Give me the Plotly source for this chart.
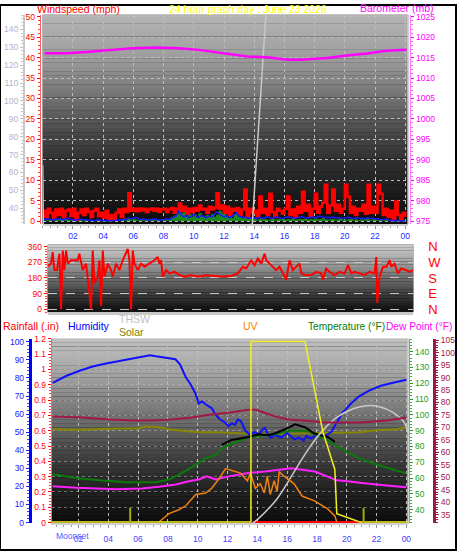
import plotly.graph_objects as go

W, H = 459, 555
FONT = "Liberation Sans, Arial, sans-serif"

# ================= DATA =================
# ---- top panel (10-minute samples, hours 0..24) ----
wind_gust = [
    2.5, 1.0, 3.0, 2.0, 0.8, 2.8,
    1.5, 3.0, 1.0, 2.5, 2.8, 1.2,
    3.0, 0.3, 2.0, 2.8, 1.5, 3.0,
    2.2, 1.0, 2.5, 3.0, 1.2, 2.0,
    0.8, 2.5, 0.5, 1.5, 0.3, 2.0,
    2.8, 1.0, 3.0, 2.2, 6.8, 2.5,
    3.0, 2.4, 3.1, 2.6, 3.0, 2.2,
    2.8, 3.1, 2.5, 3.0, 2.3, 2.9,
    3.0, 2.2, 2.8, 3.2, 2.0, 3.0,
    4.3, 2.5, 3.5, 1.8, 3.0, 2.2,
    3.2, 2.5, 3.8, 2.8, 3.0, 2.0,
    3.5, 2.8, 3.3, 6.8, 3.0, 3.8,
    2.0, 3.5, 1.5, 3.0, 2.5, 3.2,
    1.5, 2.8, 7.7, 1.0, 3.0, 2.0,
    2.5, 1.2, 6.0, 2.0, 3.0, 1.5,
    6.7, 2.2, 1.0, 3.0, 2.5, 1.8,
    3.0, 6.0, 1.5, 2.8, 1.0, 3.5,
    2.0, 7.2, 2.5, 4.0, 1.2, 3.0,
    6.7, 2.0, 3.5, 4.5, 8.9, 2.0,
    3.8, 7.7, 2.5, 4.0, 2.0, 3.0,
    8.9, 6.0, 2.0, 3.5, 1.5, 3.0,
    2.5, 4.0, 1.8, 8.9, 2.0, 3.5,
    2.0, 8.9, 6.7, 1.5, 3.0, 1.0,
    2.5, 0.5, 4.8, 1.5, 0.3, 2.0,
    1.0,
]
wind_avg = [
    0.5, 0.3, 0.6, 0.4, 0.2, 0.5,
    0.4, 0.6, 0.3, 0.5, 0.7, 0.4,
    0.3, 0.2, 0.4, 0.5, 0.3, 0.4,
    0.2, 0.3, 0.1, 0.2, 0.3, 0.2,
    0.1, 0.2, 0.1, 0.0, 0.1, 0.2,
    0.3, 0.2, 0.4, 0.3, 0.8, 0.5,
    0.7, 0.9, 0.6, 0.4, 0.5, 0.3,
    0.4, 0.3, 0.5, 0.4, 0.3, 0.2,
    0.3, 0.5, 0.4, 0.6, 0.9, 1.2,
    2.4, 1.5, 1.0, 1.3, 0.8, 1.2,
    1.6, 1.1, 0.9, 1.4, 1.0, 0.8,
    1.2, 1.0, 1.5, 2.2, 1.8, 1.4,
    1.0, 1.3, 0.8, 1.1, 1.6, 2.0,
    1.2, 0.9, 1.0, 0.8, 0.7, 0.9,
    0.8, 0.6, 0.9, 0.7, 0.8, 1.0,
    0.9, 0.7, 0.8, 1.0, 0.8, 0.6,
    0.8, 1.0, 0.9, 0.7, 0.6, 0.8,
    0.9, 1.1, 0.8, 0.7, 0.9, 1.0,
    0.8, 0.9, 1.2, 1.0, 0.8, 0.9,
    0.8, 1.0, 0.9, 0.7, 0.8, 0.6,
    0.7, 0.9, 0.8, 0.6, 0.7, 0.8,
    0.6, 0.7, 0.5, 0.8, 0.6, 0.7,
    0.5, 0.6, 0.4, 0.3, 0.5, 0.3,
    0.2, 0.1, 0.2, 0.1, 0.0, 0.1,
    0.1,
]
wind_low = [
    0.1, 0.1, 0.2, 0.1, 0.1, 0.1,
    0.2, 0.3, 0.5, 0.3, 0.1, 0.1,
    0.1, 0.0, 0.1, 0.1, 0.0, 0.1,
    0.1, 0.1, 0.0, 0.1, 0.1, 0.0,
    0.0, 0.1, 0.0, 0.0, 0.1, 0.1,
    0.1, 0.2, 0.5, 0.3, 0.6, 0.2,
    0.4, 0.2, 0.1, 0.1, 0.3, 0.1,
    0.1, 0.1, 0.2, 0.1, 0.1, 0.3,
    0.2, 0.4, 0.3, 0.8, 1.2, 1.5,
    2.6, 1.8, 2.2, 1.0, 1.6, 0.9,
    1.5, 0.8, 1.8, 1.2, 0.7, 1.4,
    1.0, 1.6, 0.9, 1.4, 2.4, 1.8,
    1.5, 0.8, 1.2, 0.6, 1.7, 2.2,
    0.9, 0.5, 0.8, 0.4, 0.6, 0.3,
    0.4, 0.2, 0.5, 0.3, 0.4, 0.2,
    0.3, 0.5, 0.2, 0.4, 0.3, 0.5,
    0.2, 0.4, 0.3, 0.6, 0.2, 0.3,
    0.4, 0.3, 0.5, 0.2, 0.4, 0.3,
    0.5, 0.3, 0.4, 0.6, 0.3, 0.2,
    0.3, 0.4, 0.2, 0.3, 0.5, 0.2,
    0.2, 0.3, 0.4, 0.2, 0.3, 0.1,
    0.3, 0.2, 0.4, 0.3, 0.2, 0.3,
    0.2, 0.1, 0.3, 0.2, 0.1, 0.1,
    0.1, 0.0, 0.1, 0.1, 0.0, 0.0,
    0.0,
]
wind_hours = [i / 6 for i in range(len(wind_gust))]

baro_hours = [0.13, 1.58, 2.89, 4.41, 5.92, 7.5, 9.01, 10.33, 12.3, 13.55,
              14.87, 16.18, 17.04, 18.82, 20.13, 21.45, 22.76, 24.08]
baro_vals = [1016.1, 1016.1, 1016.35, 1016.8, 1017.3, 1017.5, 1017.3, 1016.9,
             1015.9, 1015.3, 1015.1, 1014.5, 1014.5, 1014.9, 1015.5, 1016.0,
             1016.7, 1016.9]

thsw_top_hours = [0.0, 0.06, 13.87, 14.73, 14.9]
thsw_top_vals = [64, 15, 31, 148, 165]

# ---- middle panel: wind direction ----
wdir_hours = [0, 0.22, 0.33, 0.44, 0.61, 0.77, 0.88, 0.99, 1.10, 1.21,
              1.32, 1.53, 1.97, 2.08, 2.30, 2.52, 2.74, 2.85, 2.96, 3.07,
              3.29, 3.40, 3.51, 3.62, 3.73, 3.95, 4.16, 4.27, 4.49, 4.71,
              4.93, 5.15, 5.26, 5.37, 5.48, 5.59, 5.70, 5.92, 6.14, 6.36,
              6.68, 7.01, 7.23, 7.34, 7.45, 7.56, 7.78, 8.00, 8.33, 8.66,
              8.99, 9.42, 9.86, 10.4, 10.96, 11.5, 12.05, 12.49, 12.82, 13.04,
              13.37, 13.59, 13.81, 14.03, 14.25, 14.36, 14.58, 14.79, 15.01, 15.23,
              15.45, 15.67, 15.89, 16.11, 16.33, 16.55, 16.66, 16.88, 17.32, 17.64,
              17.97, 18.08, 18.30, 18.52, 18.85, 19.18, 19.51, 19.73, 19.95, 20.16,
              20.49, 20.82, 21.15, 21.48, 21.59, 21.65, 21.81, 22.03, 22.25, 22.47,
              22.58, 22.79, 23.01, 23.23, 23.56, 23.78, 24.0]
wdir_vals = [247, 262, 328, 225, 225, 319, 0, 337, 225, 337,
             262, 281, 281, 319, 225, 262, 94, 0, 337, 150,
             187, 281, 19, 337, 187, 262, 225, 187, 262, 225,
             281, 319, 347, 281, 0, 337, 262, 225, 262, 244,
             262, 281, 300, 262, 281, 187, 225, 206, 215, 197,
             187, 197, 187, 195, 191, 188, 191, 206, 244, 234,
             281, 253, 291, 262, 319, 281, 262, 244, 225, 244,
             206, 169, 281, 225, 244, 262, 206, 197, 197, 215,
             206, 169, 234, 215, 197, 215, 206, 253, 206, 215,
             206, 197, 215, 206, 300, 37, 187, 244, 244, 281,
             244, 262, 206, 234, 225, 215, 225]
dir_ticks = [0, 90, 180, 270, 360]
dir_labels = ["N", "E", "S", "W", "N"]

# ---- bottom panel ----
hum_hours = [0.27, 1.2, 2.07, 2.95, 3.85, 4.7, 5.6, 6.5, 6.8, 7.2,
             7.8, 8.5, 8.8, 9.2, 9.5, 9.85, 10.07, 10.3, 10.6, 10.95,
             11.2, 11.5, 11.8, 12.07, 12.3, 12.5, 12.7, 12.9, 13.2, 13.5,
             13.8, 14.1, 14.3, 14.5, 14.7, 14.9, 15.2, 15.6, 16.0, 16.5,
             16.8, 17.1, 17.3, 17.6, 18.0, 18.4, 18.7, 19.0, 19.3, 19.7,
             20.3, 20.8, 21.5, 22.3, 23.1, 24.0]
hum_vals = [77.3, 81.2, 84.0, 86.3, 88.0, 89.4, 90.6, 92.0, 92.6, 92.0,
            91.2, 90.3, 87.6, 80.4, 76.8, 71.4, 65.9, 67.0, 65.0, 63.2,
            59.6, 57.0, 55.5, 53.4, 55.0, 54.0, 57.0, 56.0, 50.8, 48.6,
            50.0, 48.6, 51.0, 52.4, 49.0, 47.0, 48.5, 47.0, 49.5, 46.0,
            47.0, 45.4, 48.0, 46.5, 48.6, 47.5, 48.6, 50.5, 55.0, 60.5,
            66.0, 69.7, 73.0, 75.7, 77.3, 79.0]

in_hum_hours = [0.27, 2.07, 3.4, 6.07, 6.53, 7.4, 8.27, 10.07, 11.2, 13.4,
                14.2, 16.73, 18.67, 20.87, 22.0, 23.4, 24.0]
in_hum_vals = [51.6, 51.3, 51.8, 52.2, 53.1, 52.7, 51.3, 50.0, 50.0, 49.2,
               48.9, 49.2, 49.5, 50.0, 51.1, 51.6, 52.7]

in_temp_hours = [0.27, 2.3, 4.07, 5.6, 6.9, 8.2, 9.6, 10.9, 12.07, 13.4,
                 13.9, 14.5, 15.2, 16.1, 17.2, 18.7, 20.9, 22.7, 24.0]
in_temp_vals = [74.4, 74.0, 73.2, 72.8, 72.8, 73.2, 74.0, 75.2, 75.9, 77.1,
                77.1, 75.9, 74.4, 73.2, 72.8, 72.0, 72.0, 72.8, 74.0]

temp_hours = [0.27, 1.87, 3.4, 5.2, 7.2, 8.07, 8.93, 9.87, 10.5, 11.2,
              11.6, 12.07, 13.4, 15.2, 16.3, 17.4, 18.67, 19.8, 20.9, 22.0,
              23.1, 24.0]
temp_vals = [62.5, 60.1, 58.6, 57.4, 57.4, 59.1, 63.2, 68.4, 72.5, 74.6,
             78.7, 80.8, 86.0, 87.8, 90.3, 89.7, 84.1, 77.5, 72.3, 68.6,
             65.5, 63.0]

dew_hours = [0.27, 1.87, 4.53, 6.27, 7.4, 8.53, 9.4, 10.07, 10.6, 11.2,
             12.07, 13.4, 14.53, 16.27, 17.87, 18.73, 19.33, 20.07, 20.87, 22.67,
             24.0]
dew_vals = [54.9, 53.9, 52.9, 53.5, 54.5, 56.0, 58.0, 59.1, 61.1, 59.1,
            61.1, 63.2, 64.2, 66.3, 64.2, 61.1, 58.6, 58.0, 57.0, 55.3,
            54.3]

heat_hours = [11.6, 12.27, 13.4, 14.07, 14.73, 15.2, 15.87, 16.53, 17.2, 17.8,
              18.2, 18.73, 19.2]
heat_vals = [81.0, 84.1, 86.0, 87.8, 87.2, 88.4, 90.9, 94.0, 92.2, 88.4,
             87.2, 86.0, 82.9]

thsw_hours = [13.67, 14.2, 15.33, 16.47, 17.53, 18.47, 19.33, 20.47, 21.33,
              22.2, 23.13, 23.8, 24.13]
thsw_vals = [31.3, 35.5, 47.0, 64.0, 79.8, 91.0, 98.4, 104.0, 105.8,
             105.2, 101.5, 96.0, 89.0]

uv_hours = [7.4, 8.07, 8.73, 9.2, 9.87, 10.53, 10.93, 11.4, 11.87, 12.2,
            12.53, 12.87, 13.33, 13.53, 13.87, 14.2, 14.47, 14.67, 14.87, 15.13,
            15.33, 15.47, 15.67, 16.07, 16.47, 17.0, 17.8, 18.67, 19.2, 19.33]
uv_vals = [0.0, 0.55, 0.8, 1.06, 1.8, 1.9, 2.2, 2.8, 3.5, 3.4,
           3.3, 3.2, 2.7, 3.2, 2.2, 2.5, 1.9, 3.0, 1.8, 2.7,
           2.0, 3.3, 3.1, 2.8, 2.5, 1.7, 1.4, 0.9, 0.4, 0.0]

solar_hours = [0.0, 13.57, 13.57, 17.2, 18.4, 19.2, 19.33, 20.53, 20.87, 24.13]
solar_vals = [0, 0, 985, 985, 491, 287, 46, 13, 0, 0]

sun_event_hours = [5.47, 21.13]
sun_marker_height = 78

rain_hours = [13.67, 21.13]
rain_vals = [0.0, 0.0]

moon_event_hour = 1.6
moon_event_label = "Moonset"

hour_ticks = [2, 4, 6, 8, 10, 12, 14, 16, 18, 20, 22, 24]
hour_labels = ["02", "04", "06", "08", "10", "12", "14", "16", "18", "20", "22", "00"]
rain_ticks = [0, 0.1, 0.2, 0.3, 0.4, 0.5, 0.6, 0.7, 0.8, 0.9, 1.0, 1.1, 1.2]
rain_labels = ["0", "0.1", "0.2", "0.3", "0.4", "0.5", "0.6", "0.7", "0.8", "0.9", "1", "1.1", "1.2"]

# ================= FIGURE =================
def px(p):
    return p / W

def py(p):
    return 1 - p / H

fig = go.Figure()

# --- top panel traces ---
fig.add_trace(go.Scatter(x=wind_hours, y=wind_low, xaxis="x", yaxis="y", mode="lines",
                         line=dict(color="#1a8a1a", width=1, shape="hv"),
                         fill="tozeroy", fillcolor="#1a8a1a", name="Wind low"))
fig.add_trace(go.Scatter(x=wind_hours, y=wind_gust, xaxis="x", yaxis="y", mode="lines",
                         line=dict(color="#ff0000", width=2.5, shape="hv"), name="Gust"))
fig.add_trace(go.Scatter(x=wind_hours, y=wind_avg, xaxis="x", yaxis="y", mode="lines",
                         line=dict(color="#1a1aff", width=1.5), name="Avg"))
fig.add_trace(go.Scatter(x=thsw_top_hours, y=thsw_top_vals, xaxis="x", yaxis="y2", mode="lines",
                         line=dict(color="#c8c8c8", width=1.5), name="THSW"))
fig.add_trace(go.Scatter(x=baro_hours, y=baro_vals, xaxis="x", yaxis="y3", mode="lines",
                         line=dict(color="#ff00ff", width=2.5), name="Barometer"))

# --- middle panel ---
fig.add_trace(go.Scatter(x=wdir_hours, y=wdir_vals, xaxis="x2", yaxis="y4", mode="lines",
                         line=dict(color="#ff0000", width=2), name="Direction"))
fig.add_trace(go.Scatter(x=[wdir_hours[0]], y=[wdir_vals[0]], xaxis="x2", yaxis="y5", mode="markers",
                         marker=dict(opacity=0), hoverinfo="skip"))

# --- bottom panel ---
fig.add_trace(go.Scatter(x=rain_hours, y=rain_vals, xaxis="x3", yaxis="y7", mode="lines",
                         line=dict(color="#ff0000", width=3), name="Rainfall"))
fig.add_trace(go.Scatter(x=in_hum_hours, y=in_hum_vals, xaxis="x3", yaxis="y6", mode="lines",
                         line=dict(color="#868600", width=2), name="Indoor humidity"))
fig.add_trace(go.Scatter(x=hum_hours, y=hum_vals, xaxis="x3", yaxis="y6", mode="lines",
                         line=dict(color="#1010ff", width=2), name="Humidity"))
fig.add_trace(go.Scatter(x=temp_hours, y=temp_vals, xaxis="x3", yaxis="y8", mode="lines",
                         line=dict(color="#0a7a0a", width=2), name="Temperature"))
fig.add_trace(go.Scatter(x=dew_hours, y=dew_vals, xaxis="x3", yaxis="y8", mode="lines",
                         line=dict(color="#ff20ff", width=2), name="Dew point"))
fig.add_trace(go.Scatter(x=heat_hours, y=heat_vals, xaxis="x3", yaxis="y8", mode="lines",
                         line=dict(color="#000000", width=2), name="Heat index"))
fig.add_trace(go.Scatter(x=thsw_hours, y=thsw_vals, xaxis="x3", yaxis="y8", mode="lines",
                         line=dict(color="#c8c8c8", width=1.5, shape="spline"), name="THSW"))
fig.add_trace(go.Scatter(x=in_temp_hours, y=in_temp_vals, xaxis="x3", yaxis="y9", mode="lines",
                         line=dict(color="#a01848", width=2), name="Indoor temp"))
fig.add_trace(go.Scatter(x=uv_hours, y=uv_vals, xaxis="x3", yaxis="y10", mode="lines",
                         line=dict(color="#f08010", width=1.5), name="UV"))
fig.add_trace(go.Scatter(x=solar_hours, y=solar_vals, xaxis="x3", yaxis="y11", mode="lines",
                         line=dict(color="#f0f020", width=1.5), name="Solar"))
sx, sy = [], []
for h in sun_event_hours:
    sx += [h, h, None]
    sy += [-20, sun_marker_height, None]
fig.add_trace(go.Scatter(x=sx, y=sy, xaxis="x3", yaxis="y11", mode="lines",
                         line=dict(color="#a8a810", width=2), name="Sun events"))

# --- gradient backgrounds ---
def gradient(xref, yref, stops, n=48):
    for i in range(n):
        f = (i + 0.5) / n
        for j in range(len(stops) - 1):
            a, b = stops[j], stops[j + 1]
            if a[0] <= f <= b[0]:
                t = (f - a[0]) / (b[0] - a[0])
                g = int(round(a[1] + (b[1] - a[1]) * t))
                break
        fig.add_shape(type="rect", xref=xref, yref=yref, x0=0, x1=1,
                      y0=1 - (i + 1) / n, y1=1 - i / n + 0.001,
                      fillcolor=f"rgb({g},{g},{g})", line_width=0, layer="below")

gradient("x domain", "y domain", [(0, 180), (0.19, 160), (0.42, 108), (0.56, 74), (0.70, 48), (0.89, 24), (1.0, 12)])
gradient("x2 domain", "y4 domain", [(0, 205), (0.26, 160), (0.49, 112), (0.72, 64), (0.88, 32), (1.0, 16)], n=24)
gradient("x3 domain", "y7 domain", [(0, 192), (0.21, 160), (0.43, 112), (0.64, 64), (0.8, 37), (1.0, 12)])

# frame lines
fig.add_shape(type="line", xref="x domain", yref="y domain", x0=1, x1=1, y0=0, y1=1,
              line=dict(color="#d0d0d0", width=2))
fig.add_shape(type="line", xref="x3 domain", yref="y7 domain", x0=1, x1=1, y0=0, y1=1,
              line=dict(color="#d0d0d0", width=2))
fig.add_shape(type="rect", xref="paper", yref="paper", x0=0, x1=1, y0=0, y1=1,
              line=dict(color="black", width=2))

tf = lambda c, s=8.5: dict(color=c, size=s, family=FONT)
GRID = "#bcbcbc"

top_dom = [py(223), py(10)]
mid_dom = [py(313), py(244)]
bot_dom = [py(528), py(340)]

fig.update_layout(
    width=W, height=H, margin=dict(l=0, r=0, t=0, b=0),
    paper_bgcolor="white", plot_bgcolor="black", showlegend=False,
    font=dict(family=FONT),
    # ---- top
    xaxis=dict(domain=[px(43), px(411)], range=[0, 24.2], anchor="y",
               tickvals=hour_ticks, ticktext=hour_labels, tickfont=tf("#2a2aff"),
               ticks="outside", ticklen=3, tickcolor="#909090",
               minor=dict(dtick=0.5, ticks="outside", ticklen=2, tickcolor="#a0a0a0"),
               showgrid=True, gridcolor=GRID, griddash="dot",
               showline=True, linecolor="#d0d0d0", linewidth=2, zeroline=False),
    yaxis=dict(domain=top_dom, range=[-0.72, 50.48], anchor="free", position=px(40), side="left",
               dtick=5, tickfont=tf("#ff0000"), ticks="outside", ticklen=3, tickcolor="#ff0000",
               minor=dict(dtick=1, ticks="outside", ticklen=2, tickcolor="#ff4040"),
               showline=True, linecolor="#ff6060", linewidth=1,
               showgrid=True, gridcolor=GRID, griddash="dot", zeroline=False),
    yaxis2=dict(overlaying="y", range=[31.2, 148.2], anchor="free", position=px(24), side="left",
                tickvals=[40, 50, 60, 70, 80, 90, 100, 110, 120, 130, 140],
                tickfont=tf("#b4b4c8"), ticks="outside", ticklen=3, tickcolor="#c0c0c0",
                minor=dict(dtick=2, ticks="outside", ticklen=2, tickcolor="#c8c8c8"),
                showline=True, linecolor="#c8c8c8", linewidth=2, showgrid=False, zeroline=False),
    yaxis3=dict(overlaying="y", range=[974.28, 1025.48], anchor="free", position=px(413), side="right",
                dtick=5, tickfont=tf("#ff00ff"), ticks="outside", ticklen=3, tickcolor="#ff00ff",
                minor=dict(dtick=1, ticks="outside", ticklen=2, tickcolor="#ff60ff"),
                showline=True, linecolor="#ff80ff", linewidth=1, showgrid=False, zeroline=False),
    # ---- middle
    xaxis2=dict(domain=[px(48), px(416)], range=[0, 24.02], anchor="y4",
                showticklabels=False, ticks="", showgrid=False,
                showline=True, linecolor="#c8c8c8", linewidth=3, zeroline=False),
    yaxis4=dict(domain=mid_dom, range=[-17, 371], anchor="free", position=px(47), side="left",
                tickvals=dir_ticks, tickfont=tf("#ff0000"), ticks="outside", ticklen=3,
                tickcolor="#ff0000",
                minor=dict(dtick=15, ticks="outside", ticklen=2, tickcolor="#ff4040"),
                showline=False, showgrid=True, gridcolor="#c8c8c8", griddash="dash",
                zeroline=False),
    yaxis5=dict(overlaying="y4", range=[-17, 371], anchor="free", position=px(430), side="right",
                tickvals=dir_ticks, ticktext=dir_labels, tickfont=tf("#ff0000", 13),
                ticks="", showline=False, showgrid=False, zeroline=False),
    # ---- bottom
    xaxis3=dict(domain=[px(52), px(411)], range=[0.2, 24.13], anchor="y7",
                tickvals=hour_ticks, ticktext=hour_labels, tickfont=tf("#4040ff"),
                ticks="outside", ticklen=3, tickcolor="#909090", ticklabelstandoff=3,
                minor=dict(dtick=0.5, ticks="outside", ticklen=2, tickcolor="#a0a0a0"),
                showgrid=True, gridcolor=GRID, griddash="dot",
                showline=True, linecolor="#d0d0d0", linewidth=2, zeroline=False),
    yaxis7=dict(domain=bot_dom, range=[-0.006, 1.2], anchor="x3", side="left",
                tickvals=rain_ticks, ticktext=rain_labels, tickfont=tf("#ff0000"),
                ticks="outside", ticklen=3, tickcolor="#ff0000",
                minor=dict(dtick=0.02, ticks="outside", ticklen=2, tickcolor="#ff4040"),
                showline=True, linecolor="#ff6060", linewidth=1,
                showgrid=True, gridcolor="rgba(190,190,190,0.5)", griddash="dot", zeroline=False),
    yaxis6=dict(overlaying="y7", range=[-0.5, 101.6], anchor="free", position=px(30), side="left",
                dtick=10, tickfont=tf("#2020ff"), ticks="outside", ticklen=3, tickcolor="#2020ff",
                minor=dict(dtick=2, ticks="outside", ticklen=2, tickcolor="#4040ff"),
                showline=True, linecolor="#0000ff", linewidth=3, showgrid=False, zeroline=False),
    yaxis8=dict(overlaying="y7", range=[31.3, 148.1], anchor="free", position=px(412), side="right",
                tickvals=[40, 50, 60, 70, 80, 90, 100, 110, 120, 130, 140],
                tickfont=tf("#20a020"), ticks="outside", ticklen=3, tickcolor="#20a020",
                minor=dict(dtick=2, ticks="outside", ticklen=2, tickcolor="#40b040"),
                showline=True, linecolor="#40b040", linewidth=1, showgrid=False, zeroline=False),
    yaxis9=dict(overlaying="y7", range=[31.5, 105.5], anchor="free", position=px(437), side="right",
                dtick=5, tickfont=tf("#a01848"), ticks="outside", ticklen=3, tickcolor="#a01848",
                minor=dict(dtick=1, ticks="outside", ticklen=2, tickcolor="#a01848"),
                showline=True, linecolor="#a01848", linewidth=3, showgrid=False, zeroline=False),
    yaxis10=dict(overlaying="y7", range=[-0.1, 12], visible=False),
    yaxis11=dict(overlaying="y7", range=[-8, 1000], visible=False),
)

def label(text, x, y, color, anchor="left", size=10.5):
    fig.add_annotation(text=text, xref="paper", yref="paper", x=px(x), y=py(y),
                       xanchor=anchor, yanchor="middle", showarrow=False,
                       font=dict(color=color, size=size, family=FONT))

label("Windspeed (mph)", 35, 4, "#ff0000")
label("24 hour graph day : June 23 2026", 250, 4, "#ffff00", anchor="center")
label("Barometer (mb)", 439, 3, "#ff00ff", anchor="right")
label("THSW", 118, 320, "#c0c0c0")
label("Rainfall (.in)", 1, 327, "#ff0000")
label("Humidity", 66, 327, "#0000ff")
label("Solar", 118, 333, "#808000")
label("UV", 243, 327, "#ff8000")
label("Temperature (°F)", 308, 327, "#008000", size=10.2)
label("Dew Point (°F)", 387, 327, "#ff00ff", size=10.2)

fig.add_annotation(text=moon_event_label, xref="x3", yref="paper", x=moon_event_hour, y=py(541),
                   xanchor="center", yanchor="middle", showarrow=False, borderpad=0,
                   font=dict(color="#5a5aff", size=8.5, family=FONT))

fig.write_html("out.html",
               config={"displayModeBar": False},
               post_script="document.body.style.margin='0px';document.body.style.padding='0px';"
                           "document.documentElement.style.overflow='hidden';")
